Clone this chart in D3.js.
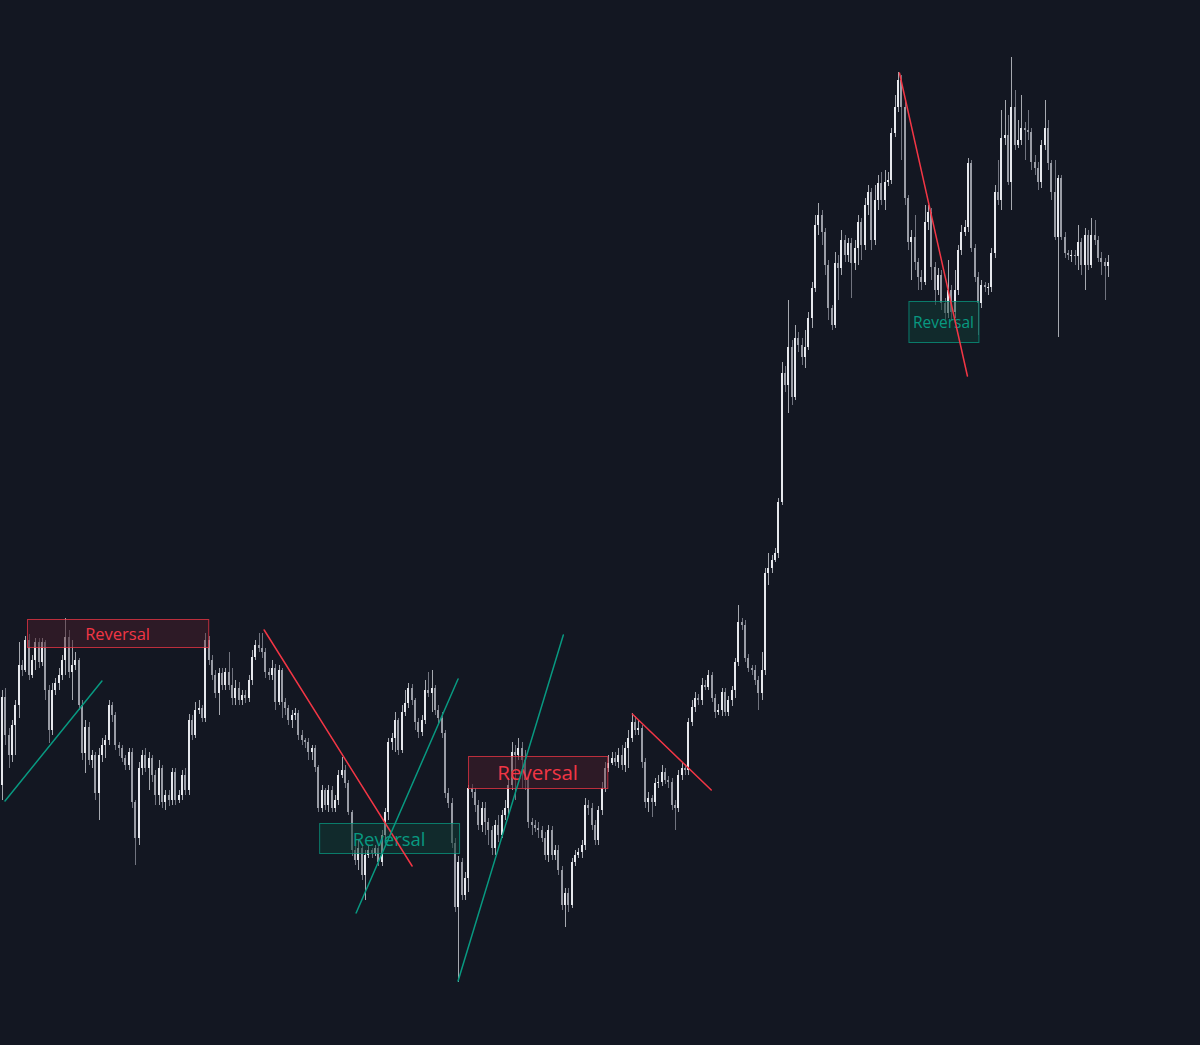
<!DOCTYPE html>
<html>
<head>
<meta charset="utf-8">
<script src="https://cdn.jsdelivr.net/npm/d3@7"></script>
<style>
  html, body { margin: 0; padding: 0; background: #131722; }
  svg { display: block; }
</style>
</head>
<body>
<svg id="chart" width="1200" height="1045"></svg>
<script>
// ---- OHLC data (arbitrary price units, one candle per bar) ----
const openVals = [
215,303,265,245,275,295,335,330,360,325,
340,358,338,358,310,270,310,317,325,340,
363,328,335,340,295,247,273,240,245,207,
245,255,260,295,285,255,252,242,235,248,
198,162,232,245,232,242,225,205,232,198,
205,200,228,200,205,225,210,280,265,290,
292,282,360,340,325,307,327,315,328,315,
302,312,300,305,302,320,343,355,352,348,
328,325,332,298,330,298,292,280,285,287,
265,260,258,248,252,233,192,210,195,210,
192,200,225,230,217,188,150,140,152,125,
145,150,147,152,138,165,188,258,262,280,
250,288,297,312,300,278,268,280,310,307,
312,290,282,267,207,197,157,93,138,105,
122,212,208,195,175,192,178,170,152,175,
165,185,192,215,248,245,252,240,220,178,
175,172,170,162,145,170,145,150,130,95,
107,95,138,145,148,155,195,192,175,160,
190,212,232,237,242,238,245,235,252,262,
278,270,272,238,198,202,198,217,218,228,
220,218,195,192,225,232,230,278,293,302,
300,315,313,325,302,288,290,308,288,300,
310,338,378,375,342,332,330,320,307,330,
427,432,440,447,498,627,615,653,603,662,
655,643,653,682,712,775,785,768,735,692,
675,737,732,760,745,757,737,752,778,755,
795,808,760,800,817,800,818,820,867,893,
920,893,802,758,763,738,723,718,778,788,
733,710,725,697,687,710,688,710,750,768,
773,837,752,723,697,715,713,713,747,808,
800,862,865,818,893,855,860,872,870,868,
838,832,818,855,872,837,808,763,822,763,
747,745,745,744,758,735,765,735,765,760,
742,738,734];

const highVals = [
310,312,272,280,300,358,340,364,366,345,
362,362,362,360,315,317,322,332,345,382,
370,360,348,342,300,280,278,250,248,252,
262,265,300,298,288,258,255,245,252,252,
200,238,250,252,248,245,230,240,235,210,
210,232,232,210,230,232,286,285,298,300,
295,367,364,345,330,332,332,332,348,332,
320,318,310,310,325,350,360,367,367,352,
332,340,336,335,332,302,295,290,292,290,
270,262,262,255,255,235,215,212,215,214,
205,230,243,235,220,190,155,160,155,150,
155,152,155,155,170,192,262,267,288,282,
295,310,317,316,302,282,285,320,328,330,
315,295,288,270,212,202,162,144,142,128,
215,216,212,200,198,198,182,174,180,185,
190,200,222,258,255,262,258,250,224,182,
180,178,174,168,175,174,155,155,134,112,
112,142,150,152,160,202,200,197,180,194,
218,238,245,248,248,252,255,258,270,287,
284,280,275,242,208,205,222,225,235,232,
224,222,200,230,238,236,282,300,308,306,
322,320,330,328,306,296,312,312,304,314,
342,395,382,380,346,335,335,324,348,432,
447,445,452,502,638,634,700,660,675,668,
662,670,688,718,785,797,790,772,740,695,
748,745,770,765,762,762,760,785,782,802,
815,812,815,825,828,830,828,872,905,928,
925,900,805,770,785,742,730,795,795,792,
738,732,730,702,740,715,730,755,775,780,
842,840,756,728,720,718,717,752,815,840,
890,900,885,943,910,880,905,878,890,872,
845,838,860,900,880,840,840,825,825,768,
750,750,750,775,762,772,770,782,780,764,
748,742,745];

const lowVals = [
200,255,232,238,245,282,324,328,320,322,
330,332,334,300,257,265,305,310,320,325,
322,300,330,290,240,227,235,232,200,180,
238,242,255,278,250,244,238,230,230,192,
135,155,225,228,210,218,195,195,192,190,
194,195,195,197,200,205,205,260,262,286,
278,278,335,320,302,285,310,310,310,295,
295,295,295,297,298,315,340,348,342,322,
320,320,290,295,282,285,275,272,280,260,
255,252,240,240,228,188,188,190,188,188,
188,195,222,212,185,144,135,130,120,100,
142,142,144,134,134,160,180,250,248,245,
247,284,292,295,270,262,264,276,303,288,
285,276,262,202,192,152,88,18,100,100,
108,202,188,170,168,165,155,145,145,158,
162,180,185,210,200,240,212,210,172,165,
168,162,158,140,138,140,140,125,90,73,
88,92,134,142,142,150,185,170,155,155,
185,208,228,235,234,232,230,228,232,258,
265,265,232,192,188,183,194,212,214,216,
212,190,170,188,220,225,225,274,288,295,
295,310,310,298,282,285,284,284,284,294,
302,334,370,338,328,325,315,290,300,325,
415,427,438,442,495,608,587,595,600,648,
635,632,650,672,708,765,755,725,680,670,
672,700,725,738,738,702,730,735,740,750,
785,750,755,790,795,790,814,816,863,888,
840,795,750,720,730,710,710,715,770,720,
695,705,690,680,682,680,682,705,745,764,
768,748,718,665,692,708,705,708,742,795,
790,855,815,790,850,852,855,840,860,830,
825,810,812,850,830,800,760,663,760,742,
740,738,735,730,725,710,730,732,755,738,
725,700,723];

const closeVals = [
303,265,245,275,295,335,330,360,325,340,
358,338,358,310,270,310,317,325,340,363,
328,335,340,295,247,273,240,245,207,245,
255,260,295,285,255,252,242,235,248,198,
162,232,245,232,242,225,205,232,198,205,
200,228,200,205,225,210,280,265,290,292,
282,360,340,325,307,327,315,328,315,302,
312,300,305,302,320,343,355,352,348,328,
325,332,298,330,298,292,280,285,287,265,
260,258,248,252,233,192,210,195,210,192,
200,225,230,217,188,150,140,152,125,145,
150,147,152,138,165,188,258,262,280,250,
288,297,312,300,278,268,280,310,307,312,
290,282,267,207,197,157,93,138,105,122,
212,208,195,175,192,178,170,152,175,165,
185,192,215,248,245,252,240,220,178,175,
172,170,162,145,170,145,150,130,95,107,
95,138,145,148,155,195,192,175,160,190,
212,232,237,242,238,245,235,252,262,278,
270,272,238,198,202,198,217,218,228,220,
218,195,192,225,232,230,278,293,302,300,
315,313,325,302,288,290,308,288,300,310,
338,378,375,342,332,330,320,307,330,427,
432,440,447,498,627,615,653,603,662,655,
643,653,682,712,775,785,768,735,692,675,
737,732,760,745,757,737,752,778,755,795,
808,760,800,817,800,818,820,867,893,920,
893,802,758,763,738,723,718,778,788,733,
710,725,697,687,710,688,710,750,768,773,
837,752,723,697,715,713,713,747,808,800,
862,865,818,893,855,860,872,870,868,838,
832,818,855,872,837,808,763,822,763,747,
745,745,744,758,735,765,735,765,760,742,
738,734,738];

// ---- Annotations (bar index / price coordinates) ----
const boxStart  = [7.5, 95.2, 139.9, 272.1];
const boxEnd    = [61.9, 137.2, 181.7, 293.1];
const boxTop    = [381, 177, 244, 699];
const boxBottom = [353, 147, 212, 658];
const boxKind   = ["bear", "bull", "bear", "bull"];
const boxLabel  = ["Reversal", "Reversal", "Reversal", "Reversal"];

const lineStart  = [0.9, 78.7, 106.3, 136.9, 189.2, 269.4];
const lineStartP = [199, 370, 87, 19, 286, 927];
const lineEnd    = [30.0, 123.1, 136.9, 168.5, 212.9, 289.8];
const lineEndP   = [319, 134, 321, 365, 210, 624];
const lineKind   = ["bull", "bear", "bull", "bull", "bear", "bear"];

// ---- styles ----
const W = 1200, H = 1045;
const labelSize = [16.5, 18.5, 20.5, 15.5];
const col = {
  bg: "#131722",
  up: "#e6e8ed",
  down: "#9a9da6",
  bear: "#f23645",
  bull: "#089981",
  bearFill: "#441e29",
  bullFill: "#113a34"
};

const n = closeVals.length;
const candles = d3.range(n).map(i => ({
  i, o: openVals[i], h: highVals[i], l: lowVals[i], c: closeVals[i]
}));

const x = d3.scaleLinear().domain([0, n - 1]).range([2, 1108]);
const y = d3.scaleLinear().domain([-45, 1000]).range([H, 0]);

const svg = d3.select("#chart");
svg.append("rect").attr("width", W).attr("height", H).attr("fill", col.bg);

const g = svg.append("g").attr("shape-rendering", "crispEdges");

// wicks
g.selectAll("rect.wick").data(candles).join("rect")
  .attr("class", "wick")
  .attr("x", d => Math.round(x(d.i)))
  .attr("width", 1)
  .attr("y", d => y(Math.max(d.h, d.o, d.c)))
  .attr("height", d => Math.max(1, y(Math.min(d.l, d.o, d.c)) - y(Math.max(d.h, d.o, d.c))))
  .attr("fill", d => d.c >= d.o ? col.up : col.down)
  .attr("opacity", 0.7);

// bodies
g.selectAll("rect.body").data(candles).join("rect")
  .attr("class", "body")
  .attr("x", d => Math.round(x(d.i)) - 1)
  .attr("width", 2)
  .attr("y", d => y(Math.max(d.o, d.c)))
  .attr("height", d => Math.max(1, Math.abs(y(d.o) - y(d.c))))
  .attr("fill", d => d.c >= d.o ? col.up : col.down);

// reversal boxes
const boxes = d3.range(boxStart.length).map(k => ({
  x0: boxStart[k], x1: boxEnd[k], top: boxTop[k], bot: boxBottom[k],
  kind: boxKind[k], label: boxLabel[k], size: labelSize[k]
}));

const bg = svg.append("g");
bg.selectAll("rect").data(boxes).join("rect")
  .attr("x", d => x(d.x0) + 0.5)
  .attr("y", d => y(d.top) + 0.5)
  .attr("width", d => x(d.x1) - x(d.x0))
  .attr("height", d => y(d.bot) - y(d.top))
  .attr("fill", d => d.kind === "bear" ? col.bearFill : col.bullFill)
  .attr("fill-opacity", 0.55)
  .attr("stroke", d => d.kind === "bear" ? col.bear : col.bull)
  .attr("stroke-opacity", 0.75)
  .attr("stroke-width", 1);

bg.selectAll("text").data(boxes).join("text")
  .attr("x", d => (x(d.x0) + x(d.x1)) / 2)
  .attr("y", d => (y(d.top) + y(d.bot)) / 2)
  .attr("text-anchor", "middle")
  .attr("dominant-baseline", "central")
  .attr("font-family", "'Open Sans', Lato, 'DejaVu Sans', sans-serif")
  .attr("font-size", d => d.size)
  .attr("fill", d => d.kind === "bear" ? col.bear : col.bull)
  .text(d => d.label);

// trend lines
const lines = d3.range(lineStart.length).map(k => ({
  x0: lineStart[k], p0: lineStartP[k], x1: lineEnd[k], p1: lineEndP[k], kind: lineKind[k]
}));
svg.append("g").selectAll("line").data(lines).join("line")
  .attr("x1", d => x(d.x0)).attr("y1", d => y(d.p0))
  .attr("x2", d => x(d.x1)).attr("y2", d => y(d.p1))
  .attr("stroke", d => d.kind === "bear" ? col.bear : col.bull)
  .attr("stroke-width", 1.5)
  .attr("stroke-linecap", "round");
</script>
</body>
</html>
